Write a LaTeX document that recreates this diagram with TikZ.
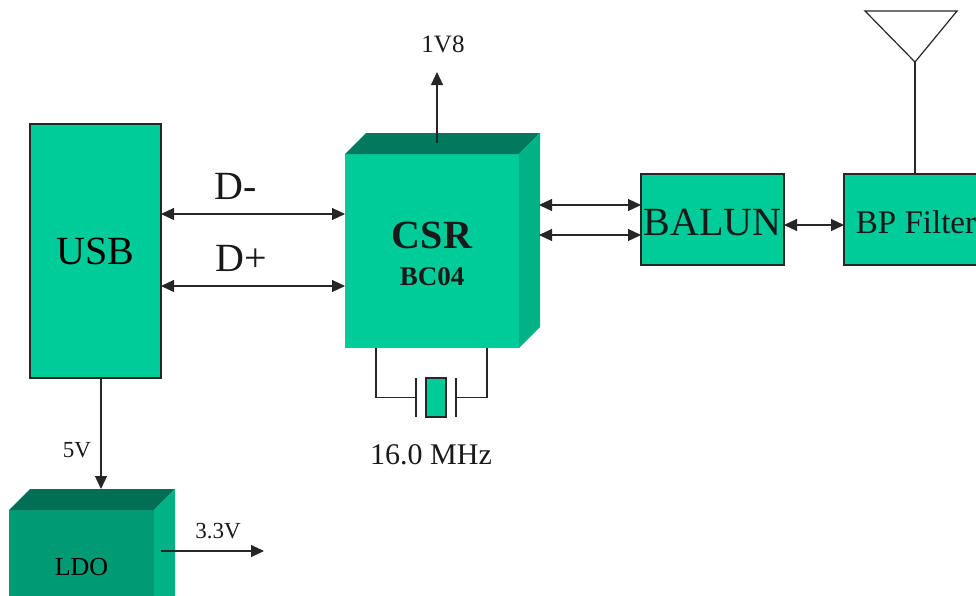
\documentclass[tikz,border=0pt]{standalone}
\usepackage{fontspec}
\setmainfont{Liberation Serif}
\usepackage{xcolor}
\usetikzlibrary{arrows.meta, calc}

\definecolor{boxgreen}{HTML}{00CC99}
\definecolor{boxside}{HTML}{00B386}
\definecolor{boxtop}{HTML}{007A5C}
\definecolor{ldogreen}{HTML}{009B74}
\definecolor{ldotop}{HTML}{006F54}

\newcommand{\fsz}[1]{\fontsize{#1}{#1}\selectfont}

\tikzset{
  flatbox/.style={rectangle, draw=black!85, line width=1.2pt, fill=boxgreen, inner sep=0pt, outer sep=0pt},
  solidbox/.style={rectangle, inner sep=0pt, outer sep=0pt},
  lbl/.style={inner sep=0pt, text=black!90},
  wire/.style={draw=black!85, line width=1.2pt},
  dblarrow/.style={wire, {Triangle[length=13pt,width=12pt]}-{Triangle[length=13pt,width=12pt]}},
  onearrow/.style={wire, -{Triangle[length=13pt,width=12pt]}}
}

\begin{document}
\begin{tikzpicture}[x=1pt, y=-1pt]
\path[use as bounding box, clip] (0,0) rectangle (976,595);

\node (usb) [flatbox, minimum width=131pt, minimum height=254pt, font=\fsz{40}] at (95.5,251) {USB};
\node (csr) [solidbox, fill=boxgreen, minimum width=174pt, minimum height=194pt] at (432,251) {};
\node (balun) [flatbox, minimum width=143pt, minimum height=91pt] at (712.5,219.5) {};
\node (filter) [flatbox, minimum width=144pt, minimum height=91pt] at (916,219.5) {};
\node (ldo) [solidbox, fill=ldogreen, minimum width=145pt, minimum height=114pt, font=\fsz{26}] at (81.5,567) {LDO};
\node (xtal) [flatbox, minimum width=20pt, minimum height=39pt] at (436,397.5) {};

% block faces
\fill[boxtop] (csr.north west) -- ++(21,-21) -- ($(csr.north east)+(21,-21)$) -- (csr.north east) -- cycle;
\fill[boxside] (csr.north east) -- ++(21,-21) -- ($(csr.south east)+(21,-21)$) -- (csr.south east) -- cycle;
\fill[ldotop] (ldo.north west) -- ++(21,-21) -- ($(ldo.north east)+(21,-21)$) -- (ldo.north east) -- cycle;
\fill[boxside] (ldo.north east) -- ++(21,-21) -- ($(ldo.south east)+(21,-21)$) -- (ldo.south east) -- cycle;

% antenna
\coordinate (anttip) at (915,62);
\coordinate (antleft) at (865,11);
\coordinate (antright) at (957,11);
\draw[wire, line join=miter] (antleft) -- (antright) -- (anttip) -- cycle;
\draw[wire] (anttip) -- (anttip |- filter.north);

% labels
\node (csrname) [lbl, font=\fsz{40}\bfseries] at (432,235) {CSR};
\node (csrpart) [lbl, font=\fsz{27}\bfseries] at (432,277) {BC04};
\node (balunname) [lbl, font=\fsz{40}] at (712.5,222) {BALUN};
\node (filtername) [lbl, font=\fsz{33}] at (916,222) {BP Filter};
\node (dminus) [lbl, font=\fsz{40}] at (236,186) {D-};
\node (dplus) [lbl, font=\fsz{40}] at (241,258) {D+};
\node (vcore) [lbl, font=\fsz{25}] at (443,44) {1V8};
\node (vusb) [lbl, font=\fsz{23}] at (77,450) {5V};
\node (vldo) [lbl, font=\fsz{23}] at (218,531) {3.3V};
\node (xlabel) [lbl, font=\fsz{30}] at (431,455) {16.0 MHz};

\coordinate (coretip) at (437,72);
\coordinate (ldotip) at (264,551);

\draw[dblarrow] ([yshift=37pt]usb.east) -- ([yshift=37pt]csr.west);
\draw[dblarrow] ([yshift=-35pt]usb.east) -- ([yshift=-35pt]csr.west);
\draw[dblarrow] ([xshift=20pt,yshift=46pt]csr.east) -- ([yshift=14.5pt]balun.west);
\draw[dblarrow] ([xshift=20pt,yshift=16pt]csr.east) -- ([yshift=-15.5pt]balun.west);
\draw[dblarrow] ([yshift=-5.5pt]balun.east) -- ([yshift=-5.5pt]filter.west);
\draw[onearrow] ([xshift=5pt,yshift=11pt]csr.north) -- (coretip);
\draw[onearrow] ([xshift=19.5pt]ldo.north |- usb.south) -- ([xshift=19.5pt,yshift=21pt]ldo.north);
\draw[onearrow] ([xshift=7pt,yshift=16pt]ldo.east) -- (ldotip);

% crystal
\draw[wire] ([xshift=-56pt]csr.south) |- ([xshift=-20pt]xtal.center);
\draw[wire] ([xshift=55pt]csr.south) |- ([xshift=20pt]xtal.center);
\draw[wire] ([xshift=-20pt]xtal.north) -- ([xshift=-20pt]xtal.south);
\draw[wire] ([xshift=20pt]xtal.north) -- ([xshift=20pt]xtal.south);
\end{tikzpicture}
\end{document}
